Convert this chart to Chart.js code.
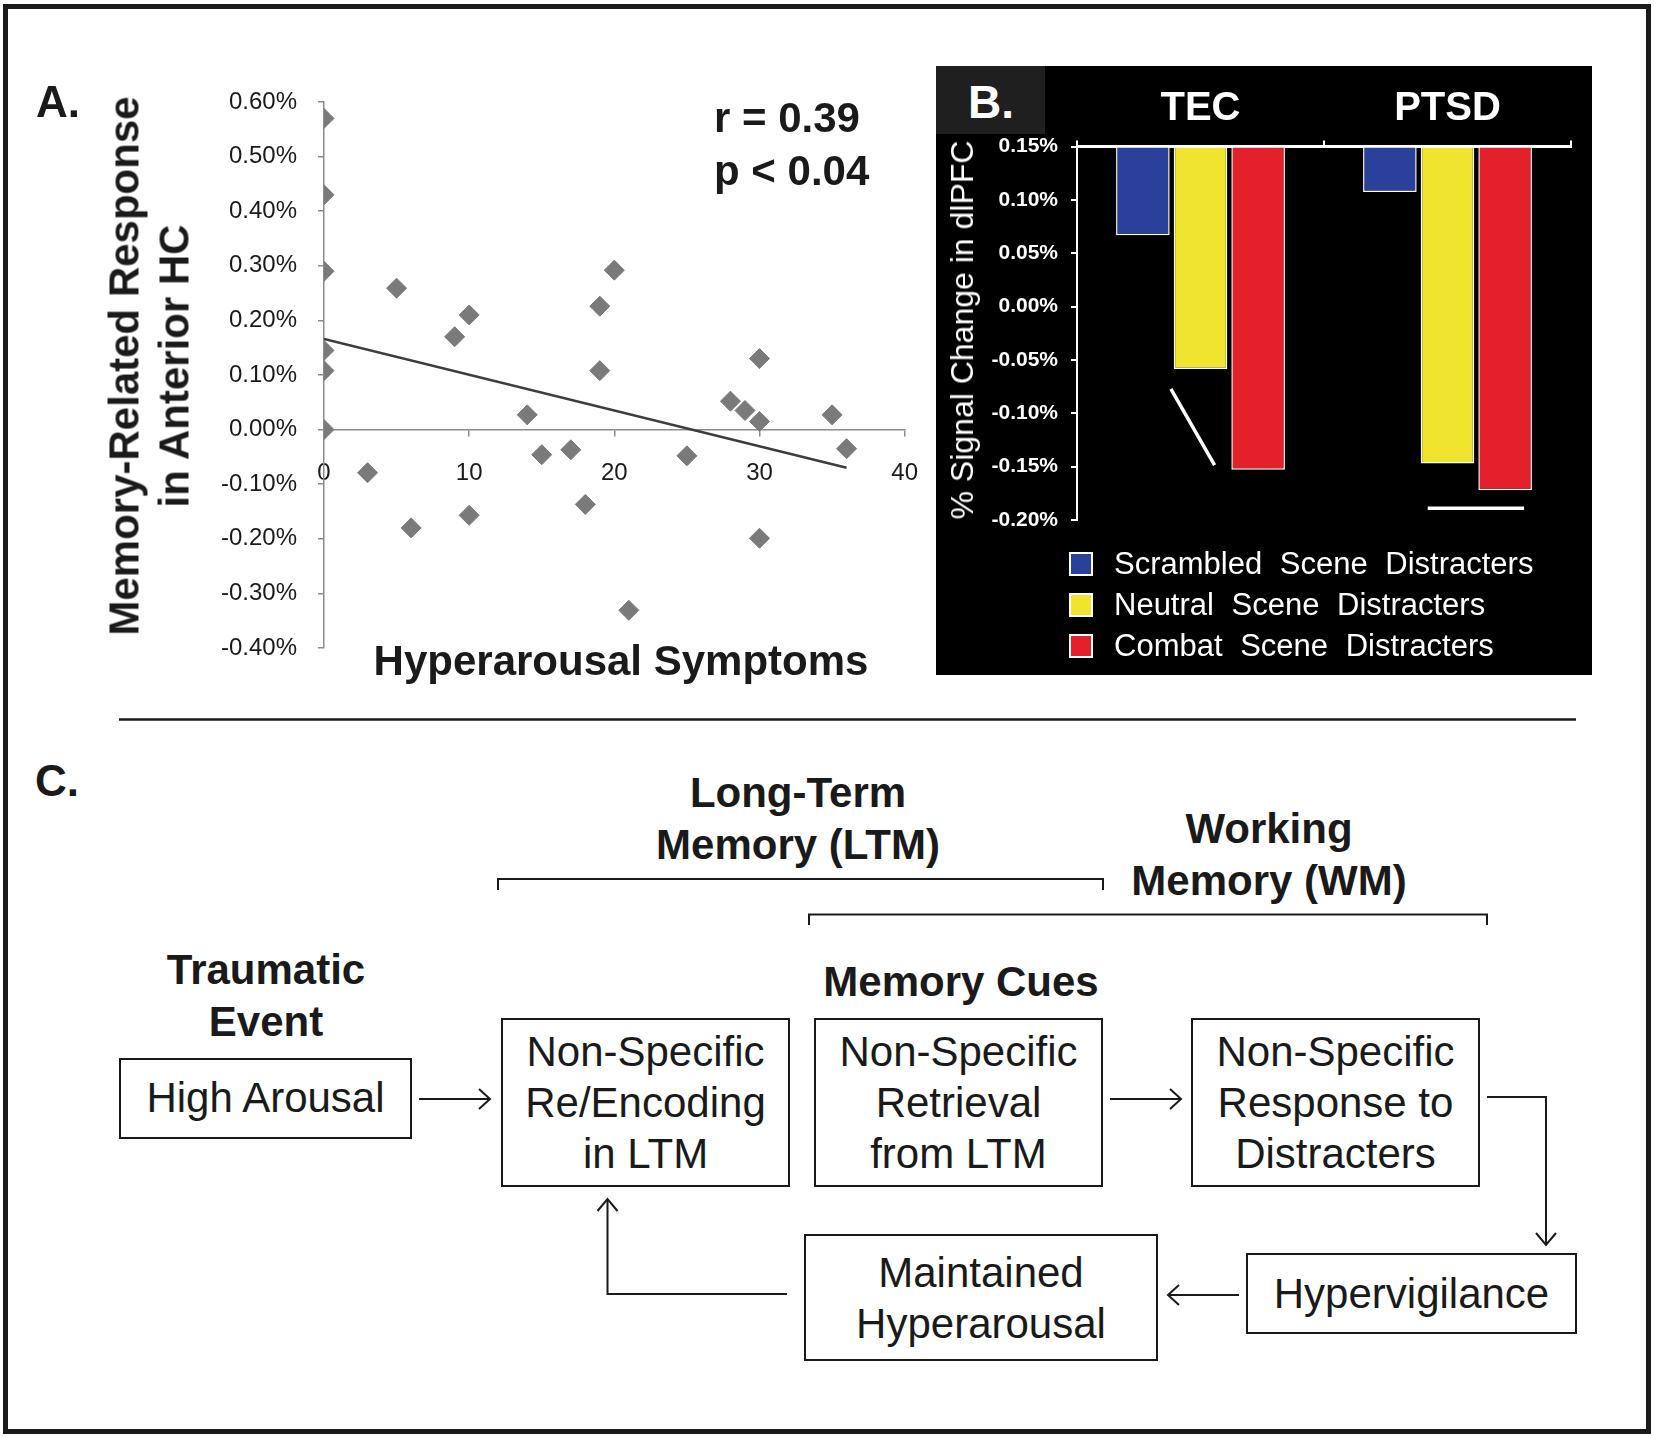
<!DOCTYPE html>
<html>
<head>
<meta charset="utf-8">
<script src="https://cdn.jsdelivr.net/npm/chart.js@4.4.0/dist/chart.umd.min.js"></script>
<style>
  body { margin: 0; background: #fff; }
  #page { position: relative; width: 1654px; height: 1437px; overflow: hidden;
          font-family: "Liberation Sans", Arial, sans-serif; color: #1a1a1a; }
  .frame { position: absolute; left: 3px; top: 4px; width: 1648px; height: 1430px;
           border: 5px solid #1a1a1a; box-sizing: border-box; }
  .t { position: absolute; transform: translate(-50%, -50%); white-space: nowrap; line-height: 1; }
  .l { position: absolute; transform: translateY(-50%); white-space: nowrap; line-height: 1; }
  .b { font-weight: bold; font-size: 42px; }
  .two { line-height: 52px; text-align: center; }
  .box { position: absolute; border: 2px solid #1a1a1a; box-sizing: border-box; display: flex;
         align-items: center; justify-content: center; text-align: center; font-size: 42px; line-height: 51px; }
  #scatter { position: absolute; left: 0; top: 0; }
  #panelB { position: absolute; left: 936px; top: 66px; width: 656px; height: 609px; background: #000; }
  #bars { position: absolute; left: 0; top: 0; }
  #legendB .row { position: absolute; left: 133px; height: 30px; display: flex; align-items: center;
                  color: #fff; font-size: 31px; word-spacing: 9px; white-space: nowrap; }
  #legendB .sw { width: 20px; height: 20px; border: 2px solid #fff; margin-right: 21px; }
  svg { position: absolute; left: 0; top: 0; }
</style>
</head>
<body>
<div id="page">
  <div class="frame"></div>

  <!-- panel A -->
  <canvas id="scatter" width="941" height="700"></canvas>
  <div class="t" style="left:36px;top:102px;font-weight:bold;font-size:44px;transform:translate(0,-50%)">A.</div>
  <div class="t b two" style="left:149px;top:366px;transform:translate(-50%,-50%) rotate(-90deg);line-height:49.5px">Memory-Related Response<br>in Anterior HC</div>
  <div class="l b" style="left:714px;top:118px">r = 0.39</div>
  <div class="l b" style="left:714px;top:171px">p &lt; 0.04</div>
  <div class="t b" style="left:621px;top:661px">Hyperarousal Symptoms</div>

  <!-- panel B -->
  <div id="panelB">
    <canvas id="bars" width="656" height="609"></canvas>
    <div style="position:absolute;left:0;top:0;width:109px;height:68px;background:#1f1f1f"></div>
    <div class="t" style="left:55px;top:36px;color:#fff;font-weight:bold;font-size:46px">B.</div>
    <div class="t" style="left:26px;top:264px;color:#fff;font-size:32px;transform:translate(-50%,-50%) rotate(-90deg)">% Signal Change in dlPFC</div>
    <div id="legendB"></div>
  </div>

  <!-- panel C -->
  <div class="t" style="left:35px;top:781px;font-weight:bold;font-size:44px;transform:translate(0,-50%)">C.</div>
  <div class="t b two" style="left:798px;top:819px">Long-Term<br>Memory (LTM)</div>
  <div class="t b two" style="left:1269px;top:855px">Working<br>Memory (WM)</div>
  <div class="t b two" style="left:266px;top:996px">Traumatic<br>Event</div>
  <div class="t b" style="left:961px;top:982px">Memory Cues</div>

  <div class="box" style="left:119px;top:1058px;width:293px;height:81px;padding-bottom:3px">High Arousal</div>
  <div class="box" style="left:501px;top:1018px;width:289px;height:169px">Non-Specific<br>Re/Encoding<br>in LTM</div>
  <div class="box" style="left:814px;top:1018px;width:289px;height:169px">Non-Specific<br>Retrieval<br>from LTM</div>
  <div class="box" style="left:1191px;top:1018px;width:289px;height:169px">Non-Specific<br>Response to<br>Distracters</div>
  <div class="box" style="left:1246px;top:1253px;width:331px;height:81px">Hypervigilance</div>
  <div class="box" style="left:804px;top:1234px;width:354px;height:127px">Maintained<br>Hyperarousal</div>

  <svg width="1654" height="1437" fill="none" stroke="#1a1a1a" stroke-width="2">
    <line x1="119" y1="719.5" x2="1576" y2="719.5" stroke-width="2.5"/>
    <polyline points="498,890 498,879 1103,879 1103,890"/>
    <polyline points="809,925 809,914.5 1487,914.5 1487,925"/>
    <line x1="419" y1="1099" x2="490" y2="1099"/>
    <polyline points="479,1089 490,1099 479,1109"/>
    <line x1="1110" y1="1099" x2="1181" y2="1099"/>
    <polyline points="1170,1089 1181,1099 1170,1109"/>
    <polyline points="1487,1097 1546,1097 1546,1245"/>
    <polyline points="1536,1233 1546,1245 1556,1233"/>
    <line x1="1239" y1="1295" x2="1168" y2="1295"/>
    <polyline points="1179,1285 1168,1295 1179,1305"/>
    <polyline points="787,1294 607.5,1294 607.5,1199"/>
    <polyline points="597.5,1211 607.5,1199 617.5,1211"/>
  </svg>
</div>

<script>
// panel A: hyperarousal score vs. HC response (%)
const hyperScore = [0, 0, 0, 0, 0, 0, 3, 5, 6, 9, 10, 10, 14, 15, 17, 18, 19, 19, 20, 21, 25, 28, 29, 30, 30, 30, 35, 36];
const hcResponse = [0.57, 0.43, 0.29, 0.145, 0.108, 0.0, -0.079, 0.259, -0.18, 0.17, 0.21, -0.157, 0.027, -0.046,
                    -0.037, -0.137, 0.226, 0.108, 0.292, -0.331, -0.048, 0.052, 0.035, 0.13, 0.015, -0.199, 0.027, -0.035];
const fitX = [0, 36];
const fitY = [0.166, -0.07];
const scatterXTicks = [0, 10, 20, 30, 40];
const scatterYTicks = [-0.4, -0.3, -0.2, -0.1, 0, 0.1, 0.2, 0.3, 0.4, 0.5, 0.6];

// panel B: dlPFC signal change (%), bars hang from the top of the axis
const groups = ['TEC', 'PTSD'];
const seriesNames = ['Scrambled Scene Distracters', 'Neutral Scene Distracters', 'Combat Scene Distracters'];
const scrambled = [0.067, 0.1075];
const neutral = [-0.0585, -0.147];
const combat = [-0.153, -0.172];
const barBase = 0.15;
const barYTicks = [-0.2, -0.15, -0.1, -0.05, 0, 0.05, 0.1, 0.15];
// significance marks, x in category units, y in %
const sigX = [[-0.12, 0.057], [0.92, 1.31]];
const sigY = [[-0.077, -0.1485], [-0.189, -0.189]];

const seriesColors = ['#2a409a', '#f1e42f', '#e4212a'];

Chart.defaults.font.family = '"Liberation Sans", Arial, sans-serif';

const pct = v => (Math.abs(v) < 1e-9 ? 0 : v).toFixed(2) + '%';
const fixTicks = arr => scale => { scale.ticks = arr.map(v => ({ value: v })); };

const points = hyperScore.map((x, i) => ({ x: x, y: hcResponse[i] }));
const fitLine = fitX.map((x, i) => ({ x: x, y: fitY[i] }));

// the "40" label plus its padding sets the right margin (~37px), so the canvas is a bit wider
new Chart(document.getElementById('scatter'), {
  type: 'scatter',
  data: {
    datasets: [
      { type: 'line', data: fitLine, borderColor: '#3d3d3d', borderWidth: 2.5, pointRadius: 0, order: 2 },
      { data: points, pointStyle: 'rectRot', pointRadius: 10, backgroundColor: '#7a7a7a', borderColor: '#7a7a7a', borderWidth: 1, order: 1 }
    ]
  },
  options: {
    responsive: false,
    animation: false,
    events: [],
    layout: { padding: { left: 0, top: 102, right: 0, bottom: 52 } },
    plugins: { legend: { display: false }, tooltip: { enabled: false } },
    scales: {
      x: {
        type: 'linear', position: { y: 0 }, min: 0, max: 40,
        afterBuildTicks: fixTicks(scatterXTicks),
        grid: { drawOnChartArea: false, color: '#8c8c8c', tickLength: 6, lineWidth: 1.5 },
        border: { color: '#8c8c8c', width: 1.5 },
        ticks: { padding: 23, color: '#1a1a1a', font: { size: 24 } }
      },
      y: {
        min: -0.4, max: 0.6,
        afterBuildTicks: fixTicks(scatterYTicks),
        afterFit: s => { s.width = 324; },
        grid: { drawOnChartArea: false, color: '#8c8c8c', tickLength: 6, lineWidth: 1.5 },
        border: { color: '#8c8c8c', width: 1.5 },
        ticks: { padding: 21, color: '#1a1a1a', font: { size: 24 }, callback: pct }
      }
    }
  }
});

const sigPlugin = {
  id: 'sigMarks',
  afterDatasetsDraw(chart) {
    const ctx = chart.ctx, xs = chart.scales.x, ys = chart.scales.y;
    ctx.save();
    ctx.strokeStyle = '#fff';
    ctx.lineWidth = 3.5;
    sigX.forEach((xx, i) => {
      ctx.beginPath();
      ctx.moveTo(xs.getPixelForValue(xx[0]), ys.getPixelForValue(sigY[i][0]));
      ctx.lineTo(xs.getPixelForValue(xx[1]), ys.getPixelForValue(sigY[i][1]));
      ctx.stroke();
    });
    ctx.restore();
  }
};

const seriesVals = [scrambled, neutral, combat];

new Chart(document.getElementById('bars'), {
  type: 'bar',
  data: {
    labels: groups,
    datasets: seriesNames.map((name, i) => ({
      label: name,
      data: seriesVals[i],
      base: barBase,
      backgroundColor: seriesColors[i],
      borderColor: '#fff',
      borderWidth: 1.5
    }))
  },
  options: {
    responsive: false,
    animation: false,
    events: [],
    layout: { padding: { left: 0, top: 0, right: 21, bottom: 155 } },
    datasets: { bar: { categoryPercentage: 0.7, barPercentage: 0.93 } },
    plugins: { legend: { display: false }, tooltip: { enabled: false } },
    scales: {
      x: {
        position: 'top',
        afterFit: s => { s.height = 80.6; },
        grid: { drawOnChartArea: false, color: '#fff', tickLength: 6, lineWidth: 2 },
        border: { color: '#fff', width: 3 },
        ticks: { color: '#fff', padding: 8, font: { size: 40, weight: 'bold' } }
      },
      y: {
        min: -0.2, max: 0.15,
        afterBuildTicks: fixTicks(barYTicks),
        afterFit: s => { s.width = 141; },
        grid: { drawOnChartArea: false, color: '#fff', tickLength: 6, lineWidth: 2 },
        border: { color: '#fff', width: 2 },
        ticks: { color: '#fff', padding: 13, font: { size: 21, weight: 'bold' }, callback: pct }
      }
    }
  },
  plugins: [sigPlugin]
});

// legend for panel B
const legendB = document.getElementById('legendB');
seriesNames.forEach((name, i) => {
  const row = document.createElement('div');
  row.className = 'row';
  row.style.top = (498 - 15 + i * 41) + 'px';
  row.innerHTML = '<div class="sw" style="background:' + seriesColors[i] + '"></div>' + name;
  legendB.appendChild(row);
});
</script>
</body>
</html>
